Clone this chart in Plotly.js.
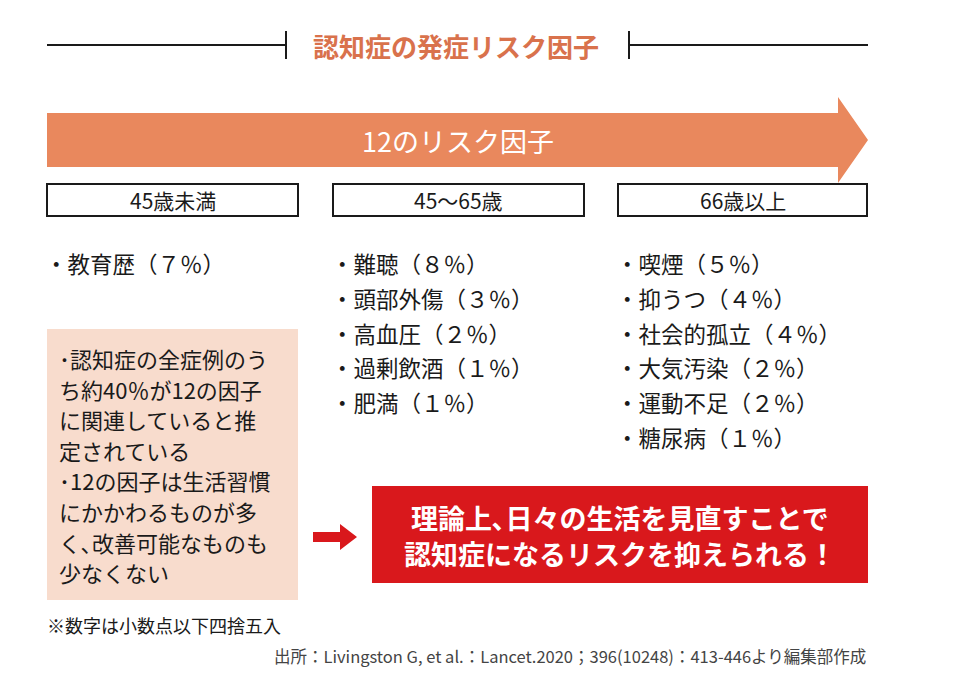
<!DOCTYPE html>
<html><head><meta charset="utf-8">
<script src="https://cdn.plot.ly/plotly-3.0.1.min.js"></script>
<style>html,body{margin:0;padding:0;background:#fff}#c{width:953px;height:687px}</style>
</head><body><div id="c"></div>
<script>
// ---- data ----
const chartTitle = "認知症の発症リスク因子";
const bannerText = "12のリスク因子";
const ageGroups = ["45歳未満", "45〜65歳", "66歳以上"];
const factorsYoung = ["教育歴"];
const pctYoung = [7];
const factorsMid = ["難聴", "頭部外傷", "高血圧", "過剰飲酒", "肥満"];
const pctMid = [8, 3, 2, 1, 1];
const factorsOld = ["喫煙", "抑うつ", "社会的孤立", "大気汚染", "運動不足", "糖尿病"];
const pctOld = [5, 4, 4, 2, 2, 1];
const noteLines = ["･認知症の全症例のう", "ち約40％が12の因子", "に関連していると推", "定されている",
                   "･12の因子は生活習慣", "にかかわるものが多", "く､改善可能なものも", "少なくない"];
const conclusionLines = ["理論上､日々の生活を見直すことで", "認知症になるリスクを抑えられる！"];
const footnote = "※数字は小数点以下四捨五入";
const source = "出所：Livingston G, et al.：Lancet.2020；396(10248)：413-446より編集部作成";

// ---- layout helpers ----
const FONT = '"Noto Sans CJK JP", "Noto Sans", sans-serif';
const ORANGE = "#e9885d";
const RED = "#d9181c";
const toFW = n => String(n).replace(/[0-9]/g, d => String.fromCharCode(d.charCodeAt(0) + 0xFEE0));

const shapes = [];
const ann = [];
function text(x, y, t, size, color, opts) {
  ann.push(Object.assign({x, y, xref: "x", yref: "y", text: t, showarrow: false,
    font: {family: FONT, size, color}, xanchor: "left", yanchor: "middle"}, opts || {}));
}
function line(x0, y0, x1, y1, w, c) {
  shapes.push({type: "line", xref: "x", yref: "y", x0, y0, x1, y1, line: {color: c, width: w}});
}
function rect(x0, y0, x1, y1, fill, lc, lw) {
  shapes.push({type: "rect", xref: "x", yref: "y", x0, y0, x1, y1, fillcolor: fill,
    line: {color: lc || fill, width: lw || 0}, layer: "below"});
}

// title with rules
line(47, 45, 286, 45, 2, "#1a1a1a");
line(286, 31, 286, 59, 2, "#1a1a1a");
line(629, 45, 868, 45, 2, "#1a1a1a");
line(629, 31, 629, 59, 2, "#1a1a1a");
text(456, 45, "<b>" + chartTitle + "</b>", 26, "#d9724c", {xanchor: "center"});

// big orange arrow
shapes.push({type: "path", xref: "x", yref: "y",
  path: "M47,113 L838,113 L838,97 L868,140 L838,183 L838,167 L47,167 Z",
  fillcolor: ORANGE, line: {width: 0}, layer: "below"});
text(458, 140, bannerText, 27, "#ffffff", {xanchor: "center"});

// age boxes
const colX = [47, 333, 618];
const colW = [251, 251, 249];
ageGroups.forEach((g, i) => {
  rect(colX[i], 184, colX[i] + colW[i], 216, "#ffffff", "#1a1a1a", 2);
  text(colX[i] + colW[i] / 2, 200, g, 21, "#1a1a1a", {xanchor: "center"});
});

// factor lists
const cols = [[factorsYoung, pctYoung], [factorsMid, pctMid], [factorsOld, pctOld]];
cols.forEach(([names, pcts], i) => {
  names.forEach((n, j) => {
    text(colX[i] - 4, 263 + j * 34.8, "・" + n + "（" + toFW(pcts[j]) + "％）", 22.5, "#1a1a1a");
  });
});

// pink note box
rect(47, 329, 298, 600, "#f8dccd");
noteLines.forEach((t, k) => text(57, 358 + k * 30.6, t, 22, "#1a1a1a"));

// red arrow
shapes.push({type: "path", xref: "x", yref: "y",
  path: "M313,532 L340,532 L340,524 L357,537 L340,550 L340,542 L313,542 Z",
  fillcolor: RED, line: {width: 0}});

// red conclusion box
rect(372, 486, 868, 583, RED);
conclusionLines.forEach((t, k) => text(620, 517 + k * 36, "<b>" + t + "</b>", 27, "#ffffff", {xanchor: "center"}));

// footnotes
text(45, 625, footnote, 18, "#1a1a1a");
text(868, 656, source, 16.5, "#444444", {xanchor: "right"});

const layout = {
  width: 953, height: 687, margin: {l: 0, r: 0, t: 0, b: 0},
  paper_bgcolor: "#ffffff", plot_bgcolor: "#ffffff", showlegend: false,
  xaxis: {range: [0, 953], visible: false, fixedrange: true},
  yaxis: {range: [687, 0], visible: false, fixedrange: true},
  shapes, annotations: ann
};
Plotly.newPlot("c", [{x: [], y: [], type: "scatter", hoverinfo: "skip"}], layout, {staticPlot: true});
</script></body></html>
